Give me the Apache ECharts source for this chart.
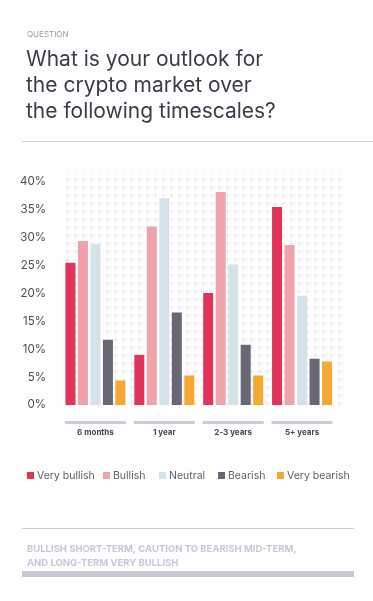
<!DOCTYPE html>
<html>
<head>
<meta charset="utf-8">
<script src="https://cdn.jsdelivr.net/npm/echarts@6/dist/echarts.min.js"></script>
<style>
html,body{margin:0;padding:0;background:#fff;}
#c{width:373px;height:601px;}
</style>
</head>
<body>
<div id="c"></div>
<script>
var categories = ['6 months', '1 year', '2-3 years', '5+ years'];
var seriesNames = ['Very bullish', 'Bullish', 'Neutral', 'Bearish', 'Very bearish'];
var veryBullish = [25.5, 9.0, 20.1, 35.5];
var bullish = [29.4, 32.0, 38.2, 28.7];
var neutral = [28.9, 37.1, 25.2, 19.6];
var bearish = [11.7, 16.6, 10.8, 8.3];
var veryBearish = [4.4, 5.3, 5.3, 7.8];
var yTicks = [0, 5, 10, 15, 20, 25, 30, 35, 40];

var colors = ['#e2345b', '#f0a2aa', '#d4e2e9', '#686773', '#f6a833'];
var seriesData = [veryBullish, bullish, neutral, bearish, veryBearish];
var FONT = 'Inter, "Noto Sans", sans-serif';

// plus-sign pattern for the plot background
var pc = document.createElement('canvas');
pc.width = 8; pc.height = 8;
var px = pc.getContext('2d');
px.fillStyle = '#ececf0';
px.fillRect(3, 1, 1, 5);
px.fillRect(1, 3, 5, 1);

var chart = echarts.init(document.getElementById('c'), null, {renderer: 'canvas'});

var series = seriesNames.map(function (n, i) {
  return {
    name: n, type: 'bar', data: seriesData[i],
    barWidth: 10, barGap: '25%',
    itemStyle: {color: colors[i]},
    z: 3
  };
});
series.push({
  name: 'underline', type: 'custom', clip: false, silent: true,
  data: categories.map(function (c, i) { return [i, 0]; }),
  encode: {x: 0, y: 1},
  renderItem: function (params, api) {
    var p = api.coord([api.value(0), 0]);
    return {
      type: 'rect',
      shape: {x: p[0] - 30.5, y: p[1] + 16, width: 61, height: 3},
      style: {fill: '#cdcbd9'}
    };
  }
});

var legendX = [22, 98, 154, 213, 272];
var legends = seriesNames.map(function (n, i) {
  return {
    data: [n], left: legendX[i], top: 465, itemWidth: 7, itemHeight: 7,
    icon: 'rect', itemGap: 0,
    textStyle: {fontSize: 10.5, color: '#5f5e6a', fontFamily: FONT, padding: [0, 0, 0, -2]}
  };
});

chart.setOption({
  animation: false,
  backgroundColor: '#fff',
  color: colors,
  title: [
    {text: 'QUESTION', left: 22, top: 26,
     textStyle: {fontSize: 8, fontWeight: 'normal', color: '#9a99a5', fontFamily: FONT}},
    {text: 'What is your outlook for\nthe crypto market over\nthe following timescales?', left: 21, top: 42,
     textStyle: {fontSize: 21, fontWeight: 'normal', color: '#3c3b48', lineHeight: 26, fontFamily: FONT}},
    {text: 'BULLISH SHORT-TERM, CAUTION TO BEARISH MID-TERM,\nAND LONG-TERM VERY BULLISH', left: 22, top: 537,
     textStyle: {fontSize: 9.5, fontWeight: 'bold', color: '#c9c7d5', lineHeight: 14, fontFamily: FONT}}
  ],
  legend: legends,
  grid: {left: 61, right: 36.5, top: 182, bottom: 196, containLabel: false},
  xAxis: {
    type: 'category', data: categories,
    axisLine: {show: false}, axisTick: {show: false},
    axisLabel: {margin: 24, fontSize: 8, fontWeight: 'bold', color: '#46454f', fontFamily: FONT}
  },
  yAxis: {
    type: 'value', min: 0, max: 40, interval: 5,
    splitLine: {show: false}, axisLine: {show: false}, axisTick: {show: false},
    axisLabel: {
      margin: 15, fontSize: 11.5, color: '#4d4c5a', fontFamily: FONT,
      formatter: function (v) { return yTicks.indexOf(v) >= 0 ? v + '%' : ''; }
    }
  },
  graphic: [
    {type: 'rect', z: -10, silent: true,
     shape: {x: 60, y: 172, width: 284, height: 238},
     style: {fill: {image: pc, repeat: 'repeat'}}},
    {type: 'line', silent: true, shape: {x1: 22, y1: 141.5, x2: 373, y2: 141.5},
     style: {stroke: '#cfcdda', lineWidth: 1}},
    {type: 'line', silent: true, shape: {x1: 22, y1: 528.5, x2: 354, y2: 528.5},
     style: {stroke: '#cfcdda', lineWidth: 1}},
    {type: 'rect', silent: true, shape: {x: 22, y: 571, width: 332, height: 6},
     style: {fill: '#cbc9d6'}}
  ],
  series: series
});
</script>
</body>
</html>
